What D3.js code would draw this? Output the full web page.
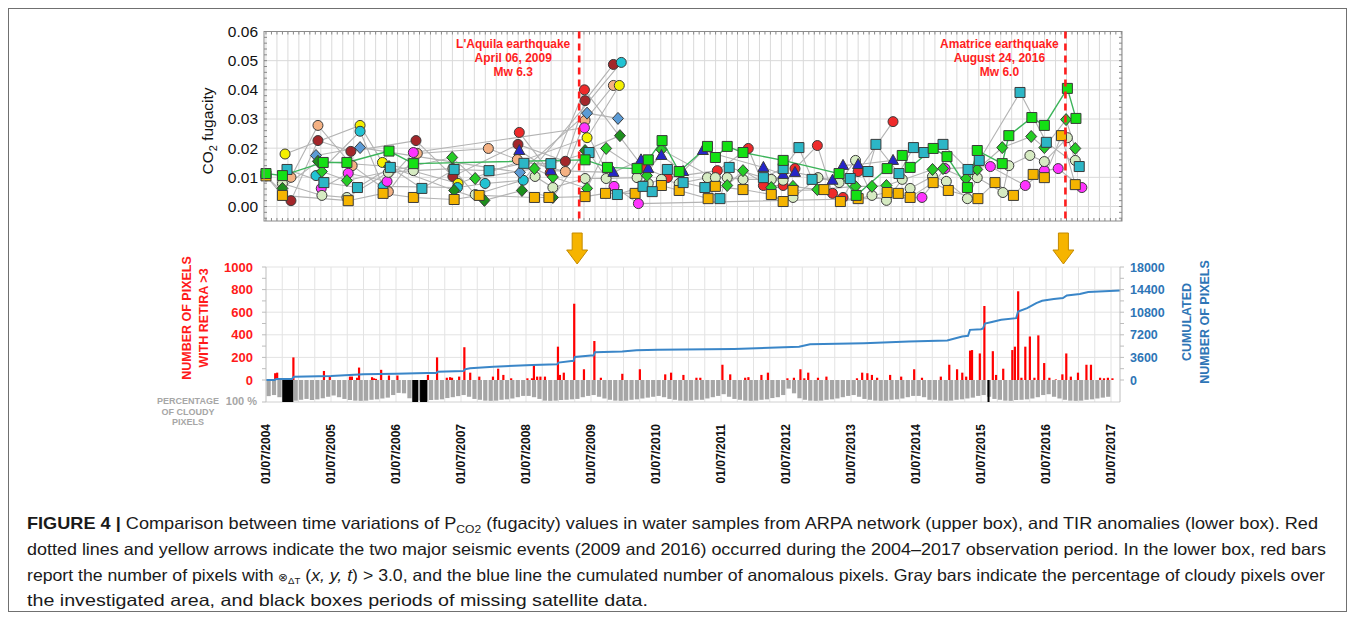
<!DOCTYPE html>
<html><head><meta charset="utf-8">
<script src="https://cdn.jsdelivr.net/npm/d3@7"></script>
<style>body{margin:0;background:#fff}svg{display:block}</style>
</head><body>
<svg id="c" width="1355" height="620"></svg>
<script>
// ---------------- DATA (upper box: CO2 fugacity, [decimal year, value]) ----------------
const greenSquares = [[2004.50,0.0113],[2004.75,0.0106],[2005.37,0.0151],[2005.73,0.0151],[2006.37,0.019],[2006.74,0.0147],[2009.35,0.016],[2009.69,0.0134],[2010.14,0.013],[2010.31,0.016],[2010.52,0.0226],[2010.78,0.012],[2011.21,0.0206],[2011.33,0.0168],[2011.51,0.0206],[2011.75,0.0185],[2012.36,0.0158],[2013.21,0.0113],[2013.47,0.0038],[2013.94,0.013],[2014.17,0.0175],[2014.29,0.0134],[2014.64,0.0199],[2014.85,0.0171],[2015.16,0.0065],[2015.31,0.0192],[2015.69,0.0147],[2015.79,0.0243],[2016.14,0.0305],[2016.33,0.0278],[2016.68,0.0405],[2016.81,0.0302]];
const cyanSquares = [[2004.82,0.0127],[2005.38,0.0082],[2005.89,0.0065],[2006.39,0.0134],[2006.87,0.0062],[2007.36,0.0127],[2007.89,0.0123],[2008.42,0.0148],[2008.83,0.0147],[2009.41,0.0185],[2009.84,0.0041],[2010.23,0.0069],[2010.37,0.0051],[2010.60,0.0127],[2010.84,0.0082],[2011.17,0.0065],[2011.40,0.0027],[2011.54,0.0134],[2012.06,0.0099],[2012.36,0.013],[2012.60,0.0202],[2012.80,0.0093],[2013.38,0.0096],[2013.65,0.012],[2013.77,0.0213],[2014.12,0.0113],[2014.34,0.0202],[2014.50,0.0185],[2014.79,0.0213],[2015.17,0.0127],[2015.34,0.0158],[2015.96,0.0391],[2016.36,0.022],[2016.86,0.0137]];
const orangeSquares = [[2004.50,0.0105],[2004.75,0.0038],[2005.75,0.002],[2006.28,0.0045],[2006.74,0.0031],[2007.36,0.0024],[2007.74,0.0038],[2008.58,0.0031],[2008.80,0.0031],[2009.35,0.0034],[2009.66,0.0045],[2010.11,0.0045],[2010.51,0.0072],[2010.78,0.0055],[2011.22,0.0027],[2011.33,0.0069],[2011.75,0.0058],[2012.18,0.0041],[2012.36,0.0017],[2012.51,0.0055],[2012.98,0.0058],[2013.23,0.0017],[2013.50,0.0027],[2013.94,0.0048],[2014.11,0.0045],[2014.29,0.0031],[2014.64,0.0082],[2014.87,0.0055],[2015.32,0.0027],[2015.58,0.0082],[2015.86,0.0038],[2016.16,0.011],[2016.33,0.0099],[2016.59,0.0243],[2016.80,0.0075]];
const paleCircles = [[2004.75,0.0079],[2005.35,0.0038],[2005.73,0.0031],[2006.36,0.0117],[2006.74,0.0123],[2007.34,0.013],[2007.68,0.0041],[2008.59,0.0103],[2008.86,0.0065],[2009.35,0.0096],[2009.67,0.0096],[2010.14,0.0099],[2010.31,0.0079],[2010.51,0.0093],[2010.78,0.0079],[2011.21,0.0099],[2011.33,0.0099],[2011.51,0.0099],[2011.75,0.0093],[2012.18,0.0093],[2012.36,0.009],[2012.51,0.0031],[2012.89,0.0099],[2013.21,0.0082],[2013.46,0.0158],[2013.71,0.0038],[2013.93,0.0021],[2014.17,0.0093],[2014.29,0.0062],[2014.63,0.0103],[2014.84,0.0086],[2015.16,0.0027],[2015.31,0.0099],[2015.70,0.0048],[2015.79,0.014],[2016.11,0.0175],[2016.33,0.0154],[2016.68,0.0236],[2016.80,0.0158]];
const magentaCircles = [[2005.34,0.0062],[2005.75,0.0114],[2006.34,0.0086],[2006.74,0.0185],[2009.34,0.027],[2009.79,0.0069],[2010.16,0.001],[2014.47,0.0031],[2014.82,0.013],[2015.51,0.0137],[2016.04,0.0072],[2016.33,0.0123],[2016.54,0.013],[2016.90,0.0065]];
const redCircles = [[2008.35,0.0254],[2008.82,0.0116],[2009.34,0.040],[2010.23,0.0134],[2010.60,0.0099],[2011.36,0.0123],[2011.83,0.0199],[2012.06,0.0072],[2012.36,0.0072],[2012.54,0.013],[2012.88,0.0209],[2013.11,0.0045],[2013.27,0.0031],[2013.50,0.012],[2014.03,0.0291]];
const darkRedCircles = [[2004.50,0.0105],[2004.88,0.002],[2005.29,0.0226],[2005.79,0.0189],[2006.78,0.0226],[2007.34,0.0103],[2008.33,0.0213],[2009.05,0.0155],[2009.35,0.0363],[2009.78,0.0487]];
const peachCircles = [[2004.88,0.010],[2005.29,0.0278],[2005.81,0.014],[2006.36,0.0051],[2006.80,0.0182],[2007.88,0.0199],[2008.32,0.0161],[2009.05,0.012],[2009.35,0.0295],[2009.78,0.0415]];
const yellowCircles = [[2004.79,0.018],[2005.93,0.0278],[2006.27,0.0151],[2007.42,0.0079],[2009.38,0.0236],[2009.87,0.0415]];
const cyanCircles = [[2005.26,0.0106],[2005.93,0.0258],[2006.28,0.0069],[2007.41,0.0065],[2007.83,0.0079],[2008.41,0.009],[2009.90,0.0494]];
const greenDiamonds = [[2005.35,0.012],[2005.73,0.0089],[2007.33,0.0168],[2007.68,0.0096],[2008.58,0.013],[2008.86,0.0101],[2009.38,0.0062],[2009.67,0.0199],[2010.29,0.0106],[2010.51,0.0195],[2011.51,0.0072],[2011.75,0.0123],[2012.18,0.0065],[2012.51,0.0069],[2012.88,0.0058],[2013.46,0.0069],[2013.71,0.0069],[2013.93,0.0072],[2014.63,0.0127],[2014.79,0.013],[2015.14,0.0096],[2015.31,0.0127],[2015.69,0.0202],[2016.13,0.024],[2016.33,0.0202],[2016.66,0.0298],[2016.80,0.0199]];
const darkGreenDiamonds = [[2004.75,0.0062],[2005.29,0.0155],[2006.37,0.0137],[2007.36,0.0055],[2007.82,0.0021],[2008.39,0.0055],[2008.86,0.0031],[2009.35,0.0192],[2009.88,0.0243]];
const blueDiamonds = [[2005.26,0.0175],[2005.93,0.0202],[2008.36,0.0117],[2009.38,0.032],[2009.85,0.0302]];
const blueTriangles = [[2008.35,0.0192],[2008.83,0.0123],[2009.78,0.0117],[2010.20,0.016],[2010.31,0.013],[2010.51,0.0175],[2010.84,0.012],[2011.14,0.0192],[2012.06,0.0134],[2012.36,0.011],[2012.54,0.0117],[2013.11,0.009],[2013.27,0.0141],[2013.50,0.0144],[2014.03,0.0158]];
const topTicks = [0, 0.01, 0.02, 0.03, 0.04, 0.05, 0.06];
const events = [
  {t: 2009.26, lines: ["L'Aquila earthquake", "April 06, 2009", "Mw 6.3"]},
  {t: 2016.65, lines: ["Amatrice earthquake", "August 24, 2016", "Mw 6.0"]}
];

// ---------------- DATA (lower box: TIR anomalies) ----------------
const redBars = [[2004.64,60],[2004.67,65],[2004.92,200],[2005.39,80],[2005.48,35],[2005.79,30],[2005.82,30],[2005.90,20],[2005.93,110],[2006.13,25],[2006.16,15],[2006.19,10],[2006.27,90],[2006.39,40],[2006.52,40],[2006.99,45],[2007.13,200],[2007.28,20],[2007.33,25],[2007.36,20],[2007.47,30],[2007.55,290],[2007.64,65],[2007.78,30],[2007.99,30],[2008.07,100],[2008.15,45],[2008.27,15],[2008.52,15],[2008.59,15],[2008.62,140],[2008.67,30],[2008.72,30],[2008.79,30],[2008.99,295],[2009.02,45],[2009.08,65],[2009.24,675],[2009.39,95],[2009.55,345],[2009.65,20],[2009.98,55],[2010.25,95],[2010.64,50],[2010.73,65],[2010.92,45],[2011.12,20],[2011.18,20],[2011.52,135],[2011.64,50],[2011.87,20],[2011.92,25],[2012.12,45],[2012.22,65],[2012.52,15],[2012.62,20],[2012.72,95],[2012.78,15],[2012.84,65],[2012.99,20],[2013.12,30],[2013.59,15],[2013.67,65],[2013.75,60],[2013.82,45],[2013.90,20],[2014.10,45],[2014.27,30],[2014.47,95],[2014.59,20],[2014.88,30],[2015.01,135],[2015.13,95],[2015.21,65],[2015.27,30],[2015.33,260],[2015.36,265],[2015.48,235],[2015.55,655],[2015.68,255],[2015.73,45],[2015.84,100],[2015.98,265],[2016.02,295],[2016.07,785],[2016.12,20],[2016.18,295],[2016.25,385],[2016.32,20],[2016.38,395],[2016.47,150],[2016.55,20],[2016.65,5],[2016.75,50],[2016.81,235],[2016.88,30],[2016.99,65],[2017.12,135],[2017.19,135],[2017.33,20],[2017.39,15],[2017.45,20],[2017.52,15]];
const cumulated = [[2004.50,0],[2004.63,0],[2004.66,160],[2004.90,160],[2004.93,530],[2005.50,640],[2006.00,905],[2006.50,1010],[2006.98,1120],[2007.12,1120],[2007.14,1330],[2007.54,1420],[2007.56,1700],[2007.64,1860],[2008.00,2130],[2008.60,2400],[2008.98,2500],[2009.00,2770],[2009.20,3035],[2009.23,3035],[2009.25,3670],[2009.50,3890],[2009.54,3890],[2009.56,4420],[2009.98,4530],[2010.20,4740],[2010.53,4800],[2011.70,4950],[2012.70,5300],[2012.87,5700],[2013.70,5860],[2014.39,6120],[2014.98,6300],[2015.21,6920],[2015.30,7050],[2015.33,7990],[2015.50,8090],[2015.53,8200],[2015.56,9000],[2015.65,9210],[2015.81,9590],[2016.04,9850],[2016.07,10900],[2016.21,11450],[2016.35,12250],[2016.44,12620],[2016.62,12890],[2016.76,13050],[2016.82,13470],[2017.02,13690],[2017.15,14000],[2017.64,14250]];
// monthly % of cloudy pixels, from July 2004
const cloudPct = [
 75,70,80,92,97,96,92,88,93,90,85,78,
 72,80,88,93,96,97,96,92,90,86,82,70,
 60,62,85,92,96,97,93,92,90,84,80,75,
 70,78,88,92,96,97,96,92,90,86,80,74,
 74,80,88,96,97,96,93,92,90,88,80,74,
 70,78,86,92,96,97,96,92,90,86,82,78,
 74,80,88,92,96,97,96,92,92,86,80,74,
 66,78,88,92,96,97,96,92,90,84,80,70,
 40,62,85,92,96,97,96,92,90,86,80,74,
 70,78,88,92,96,97,96,92,90,86,80,74,
 74,80,92,92,96,97,96,92,90,86,82,74,
 70,78,88,92,96,97,93,92,90,86,80,70,
 66,78,86,92,96,97,96,92,90,86,82,78];
const missingPeriods = [[2004.75,2004.92],[2006.75,2006.84],[2006.87,2006.98],[2015.60,2015.63]];
const leftTicks = [0, 200, 400, 600, 800, 1000];
const rightTicks = [0, 3600, 7200, 10800, 14400, 18000];
const dateYears = [2004,2005,2006,2007,2008,2009,2010,2011,2012,2013,2014,2015,2016,2017];

// ---------------- DRAWING ----------------
const F = "'Liberation Sans', Arial, Helvetica, sans-serif";
const svg = d3.select("#c").style("font-family", F);

svg.append("rect").attr("x",8.5).attr("y",8.5).attr("width",1338).attr("height",603)
  .attr("fill","none").attr("stroke","#707070");

// ===== upper box =====
const xTop = d3.scaleLinear().domain([2004.47, 2017.51]).range([264, 1122]);
const yTop = d3.scaleLinear().domain([0, 0.06]).range([206.5, 31.5]);
const TB = {x0: 264, x1: 1122, y0: 31.5, y1: 221};
const gT = svg.append("g");

const vgr = d3.range(Math.ceil(2004.47*6), Math.floor(2017.51*6)+1).map(k => k/6);
gT.selectAll(".vg").data(vgr).join("line")
  .attr("x1", d => xTop(d)).attr("x2", d => xTop(d)).attr("y1", TB.y0).attr("y2", TB.y1)
  .attr("stroke", "#dadada").attr("stroke-width", 1);
gT.selectAll(".hg").data(topTicks).join("line")
  .attr("x1", TB.x0).attr("x2", TB.x1).attr("y1", d => yTop(d)).attr("y2", d => yTop(d))
  .attr("stroke", "#dadada");
const months = d3.range(Math.ceil(2004.47*12), Math.floor(2017.51*12)+1).map(k => k/12);
gT.selectAll(".tb").data(months).join("line")
  .attr("x1", d => xTop(d)).attr("x2", d => xTop(d)).attr("y1", TB.y1).attr("y2", TB.y1-3)
  .attr("stroke", "#888");
gT.selectAll(".tt").data(months).join("line")
  .attr("x1", d => xTop(d)).attr("x2", d => xTop(d)).attr("y1", TB.y0).attr("y2", TB.y0+3)
  .attr("stroke", "#888");
const minorY = d3.range(-2, 31).map(k => k*0.002);
gT.selectAll(".ty").data(minorY).join("line")
  .attr("x1", TB.x0).attr("x2", TB.x0+3).attr("y1", d => yTop(d)).attr("y2", d => yTop(d))
  .attr("stroke", "#888");
gT.selectAll(".ty2").data(minorY).join("line")
  .attr("x1", TB.x1).attr("x2", TB.x1-3).attr("y1", d => yTop(d)).attr("y2", d => yTop(d))
  .attr("stroke", "#888");

const axT = gT.append("g").attr("transform", `translate(${TB.x0},0)`)
  .call(d3.axisLeft(yTop).tickValues(topTicks).tickFormat(d3.format(".2f")).tickSize(0).tickPadding(6));
axT.select(".domain").remove();
axT.selectAll("text").style("font-family", F).style("font-size", "15.5px").attr("fill", "#111");
const yt = gT.append("text").attr("transform", "translate(213,131) rotate(-90)")
  .attr("text-anchor", "middle").style("font-size", "15.5px").attr("fill", "#111");
yt.append("tspan").text("CO");
yt.append("tspan").attr("dy", 4).style("font-size", "11px").text("2");
yt.append("tspan").attr("dy", -4).text(" fugacity");

const shapes = {
  circle: "M5,0A5,5 0 1,1 -5,0A5,5 0 1,1 5,0Z",
  square: "M-5,-5H5V5H-5Z",
  diamond: "M0,-6L5.5,0L0,6L-5.5,0Z",
  triangle: "M0,-6L5.5,4L-5.5,4Z"
};
const series = [
  {data: peachCircles, shape: "circle", fill: "#f4b183"},
  {data: darkRedCircles, shape: "circle", fill: "#a3262a"},
  {data: yellowCircles, shape: "circle", fill: "#f4f000"},
  {data: cyanCircles, shape: "circle", fill: "#22c3d3"},
  {data: magentaCircles, shape: "circle", fill: "#ff33ff"},
  {data: redCircles, shape: "circle", fill: "#ee2a2a"},
  {data: paleCircles, shape: "circle", fill: "#d6ebc2"},
  {data: blueDiamonds, shape: "diamond", fill: "#5b9bd5"},
  {data: darkGreenDiamonds, shape: "diamond", fill: "#1d8f1d"},
  {data: greenDiamonds, shape: "diamond", fill: "#26cc26"},
  {data: blueTriangles, shape: "triangle", fill: "#2626c8"},
  {data: orangeSquares, shape: "square", fill: "#f5b400"},
  {data: cyanSquares, shape: "square", fill: "#2cb6c6"},
  {data: greenSquares, shape: "square", fill: "#14e014", line: "#3cb45a"}
];
const lineGen = d3.line().x(d => xTop(d[0])).y(d => yTop(d[1]));
series.filter(s => !s.line).forEach(s => {
  gT.append("path").attr("d", lineGen(s.data.slice().sort((a,b)=>a[0]-b[0])))
    .attr("fill", "none").attr("stroke", "#b3b3b3").attr("stroke-width", 1.1);
});
series.filter(s => s.line).forEach(s => {
  gT.append("path").attr("d", lineGen(s.data.slice().sort((a,b)=>a[0]-b[0])))
    .attr("fill", "none").attr("stroke", s.line).attr("stroke-width", 1.4);
});
series.forEach(s => {
  gT.append("g").selectAll("path").data(s.data).join("path")
    .attr("d", shapes[s.shape])
    .attr("transform", d => `translate(${xTop(d[0])},${yTop(d[1])})`)
    .attr("fill", s.fill).attr("stroke", "#3a3a3a").attr("stroke-width", 1);
});
gT.append("rect").attr("x", TB.x0).attr("y", TB.y0).attr("width", TB.x1-TB.x0).attr("height", TB.y1-TB.y0)
  .attr("fill", "none").attr("stroke", "#8a8a8a");

events.forEach(e => {
  const x = xTop(e.t);
  gT.append("line").attr("x1", x).attr("x2", x).attr("y1", TB.y0).attr("y2", TB.y1)
    .attr("stroke", "#ff1e1e").attr("stroke-width", 2.6).attr("stroke-dasharray", "7,5");
  e.lines.forEach((l, i) => {
    gT.append("text").attr("x", x-66).attr("y", 48 + i*14).attr("text-anchor", "middle")
      .style("font-size", "12px").style("font-weight", "bold").attr("fill", "#ff1e1e").text(l);
  });
  const ax = x - 2;
  svg.append("path")
    .attr("d", `M${ax-5},233L${ax+5},233L${ax+5},250L${ax+10.5},250L${ax},264L${ax-10.5},250L${ax-5},250Z`)
    .attr("fill", "#f6b400").attr("stroke", "#c48a00").attr("stroke-width", 1);
});

// ===== lower box =====
const xBot = d3.scaleLinear().domain([2004.5, 2017.638]).range([266, 1120]);
const yLeft = d3.scaleLinear().domain([0, 1000]).range([380, 267]);
const yRight = d3.scaleLinear().domain([0, 18000]).range([380, 267]);
const yCloud = d3.scaleLinear().domain([0, 100]).range([380, 401.5]);
const gB = svg.append("g");

const qgr = d3.range(1, Math.floor((2017.638-2004.5)*4)+1).map(k => 2004.5 + k/4);
gB.selectAll(".qv").data(qgr).join("line")
  .attr("x1", d => xBot(d)).attr("x2", d => xBot(d)).attr("y1", 267).attr("y2", 402)
  .attr("stroke", "#e3e3e3");
gB.selectAll(".lh").data(leftTicks.slice(1)).join("line")
  .attr("x1", 266).attr("x2", 1120).attr("y1", d => yLeft(d)).attr("y2", d => yLeft(d))
  .attr("stroke", "#e3e3e3");
gB.append("line").attr("x1", 266).attr("x2", 1120).attr("y1", 402).attr("y2", 402).attr("stroke", "#d0d0d0");

const mw = (xBot(2005.5) - xBot(2004.5)) / 12;
gB.selectAll(".cl").data(cloudPct).join("rect")
  .attr("x", (d, i) => xBot(2004.5 + i/12) + 0.5).attr("y", 380)
  .attr("width", mw - 1.2).attr("height", d => yCloud(d) - 380)
  .attr("fill", "#a6a6a6");
gB.selectAll(".ms").data(missingPeriods).join("rect")
  .attr("x", d => xBot(d[0])).attr("y", 380).attr("width", d => Math.max(2, xBot(d[1]) - xBot(d[0])))
  .attr("height", 22).attr("fill", "#000");

gB.selectAll(".rb").data(redBars).join("rect")
  .attr("x", d => xBot(d[0]) - 1).attr("y", d => yLeft(d[1])).attr("width", 2.2)
  .attr("height", d => 380 - yLeft(d[1])).attr("fill", "#ff0000");

gB.append("path").attr("d", d3.line().x(d => xBot(d[0])).y(d => yRight(d[1]))(cumulated))
  .attr("fill", "none").attr("stroke", "#3a86c8").attr("stroke-width", 2);

gB.append("line").attr("x1", 266).attr("x2", 266).attr("y1", 267).attr("y2", 402).attr("stroke", "#bdbdbd");
gB.append("line").attr("x1", 1120).attr("x2", 1120).attr("y1", 267).attr("y2", 402).attr("stroke", "#bdbdbd");
gB.selectAll(".lt").data(d3.range(0, 1001, 100)).join("line")
  .attr("x1", 262).attr("x2", 266).attr("y1", d => yLeft(d)).attr("y2", d => yLeft(d)).attr("stroke", "#bdbdbd");
gB.selectAll(".rt").data(d3.range(0, 18001, 1800)).join("line")
  .attr("x1", 1120).attr("x2", 1124).attr("y1", d => yRight(d)).attr("y2", d => yRight(d)).attr("stroke", "#bdbdbd");
gB.append("line").attr("x1", 262).attr("x2", 266).attr("y1", 402).attr("y2", 402).attr("stroke", "#bdbdbd");

const axL = gB.append("g").attr("transform", "translate(266,0)")
  .call(d3.axisLeft(yLeft).tickValues(leftTicks).tickFormat(d3.format("d")).tickSize(0).tickPadding(13));
axL.select(".domain").remove();
axL.selectAll("text").style("font-family", F).style("font-size", "13px").style("font-weight", "bold").attr("fill", "#ff1a1a");
const axR = gB.append("g").attr("transform", "translate(1120,0)")
  .call(d3.axisRight(yRight).tickValues(rightTicks).tickFormat(d3.format("d")).tickSize(0).tickPadding(10));
axR.select(".domain").remove();
axR.selectAll("text").style("font-family", F).style("font-size", "12.5px").style("font-weight", "bold").attr("fill", "#2e75b6");

gB.append("text").attr("x", 257).attr("y", 401).attr("dy", "0.35em").attr("text-anchor", "end")
  .style("font-size", "11px").style("font-weight", "bold").attr("fill", "#a6a6a6").text("100 %");
["PERCENTAGE", "OF CLOUDY", "PIXELS"].forEach((t, i) => {
  gB.append("text").attr("x", 188).attr("y", 401 + i*10.5).attr("dy", "0.35em").attr("text-anchor", "middle")
    .style("font-size", "9px").style("font-weight", "bold").attr("fill", "#a6a6a6").text(t);
});
["NUMBER OF PIXELS", "WITH RETIRA >3"].forEach((t, i) => {
  gB.append("text").attr("transform", `translate(${187 + i*17},318) rotate(-90)`).attr("dy", "0.35em")
    .attr("text-anchor", "middle").style("font-size", "12.5px").style("font-weight", "bold")
    .attr("fill", "#ff1a1a").text(t);
});
["CUMULATED", "NUMBER OF PIXELS"].forEach((t, i) => {
  gB.append("text").attr("transform", `translate(${1187 + i*18},322) rotate(-90)`).attr("dy", "0.35em")
    .attr("text-anchor", "middle").style("font-size", "12.5px").style("font-weight", "bold")
    .attr("fill", "#2e75b6").text(t);
});
gB.selectAll(".dl").data(dateYears).join("text")
  .attr("transform", d => `translate(${xBot(d + 0.5)},424) rotate(-90)`).attr("dy", "0.35em")
  .attr("text-anchor", "end").style("font-size", "12px").style("font-weight", "bold").attr("fill", "#111")
  .text(d => "01/07/" + d);

// ===== caption =====
const cap = svg.append("g").style("font-size", "16.5px").attr("fill", "#1a1a1a");
const l1 = cap.append("text").attr("x", 27).attr("y", 528.5).attr("textLength", 1291).attr("lengthAdjust", "spacingAndGlyphs");
l1.append("tspan").style("font-weight", "bold").text("FIGURE 4 | ");
l1.append("tspan").text("Comparison between time variations of P");
l1.append("tspan").attr("dy", 4).style("font-size", "11px").text("CO2");
l1.append("tspan").attr("dy", -4).text(" (fugacity) values in water samples from ARPA network (upper box), and TIR anomalies (lower box). Red");
cap.append("text").attr("x", 27).attr("y", 554.5).attr("textLength", 1299).attr("lengthAdjust", "spacingAndGlyphs")
  .text("dotted lines and yellow arrows indicate the two major seismic events (2009 and 2016) occurred during the 2004\u20132017 observation period. In the lower box, red bars");
const l3 = cap.append("text").attr("x", 27).attr("y", 580.5).attr("textLength", 1298).attr("lengthAdjust", "spacingAndGlyphs");
l3.append("tspan").text("report the number of pixels with ");
l3.append("tspan").style("font-size", "11px").text("\u2297");
l3.append("tspan").attr("dy", 3).style("font-size", "9px").text("\u0394T");
l3.append("tspan").attr("dy", -3).text(" (");
l3.append("tspan").style("font-style", "italic").text("x, y, t");
l3.append("tspan").text(") > 3.0, and the blue line the cumulated number of anomalous pixels. Gray bars indicate the percentage of cloudy pixels over");
cap.append("text").attr("x", 27).attr("y", 606).attr("textLength", 621).attr("lengthAdjust", "spacingAndGlyphs")
  .text("the investigated area, and black boxes periods of missing satellite data.");
</script>
</body></html>
